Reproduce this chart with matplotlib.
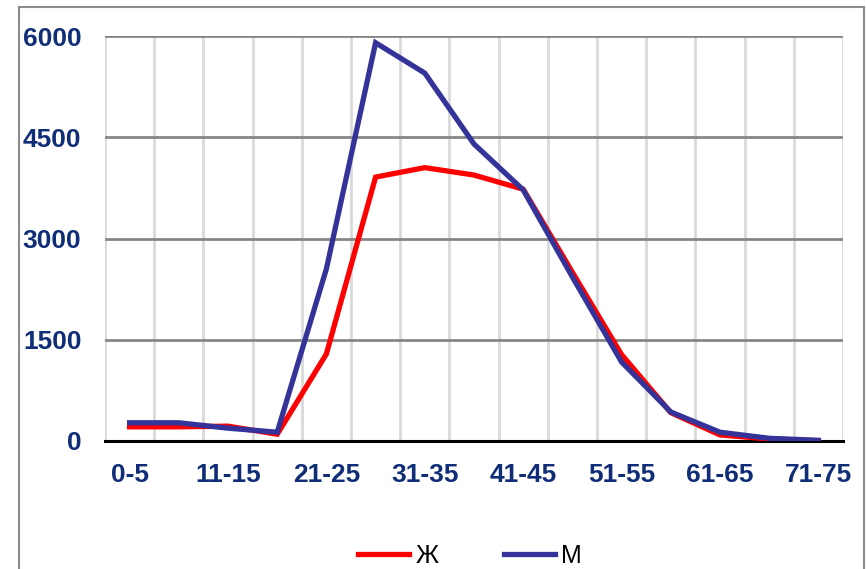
import matplotlib.pyplot as plt
from matplotlib.patches import Rectangle
import numpy as np

plt.rcParams['font.family'] = ['Liberation Sans', 'DejaVu Sans']

# возрастные группы
ages = ['0-5', '6-10', '11-15', '16-20', '21-25', '26-30', '31-35', '36-40',
        '41-45', '46-50', '51-55', '56-60', '61-65', '66-70', '71-75']
# женщины
women = [210, 210, 220, 100, 1290, 3910, 4050, 3940, 3730, 2500, 1280, 420, 90, 30, 5]
# мужчины
men = [270, 270, 190, 130, 2550, 5900, 5450, 4400, 3720, 2430, 1170, 430, 130, 40, 10]

label_color = '#102E78'

fig = plt.figure(figsize=(8.66, 5.69), dpi=100)
ax = fig.add_axes([105 / 866, 1 - 441 / 569, 738 / 866, 405 / 569])

x = np.arange(len(ages))
ax.plot(x, women, color='#FF0000', lw=3.8, label='Ж', zorder=4, solid_joinstyle='miter')
ax.plot(x, men, color='#333399', lw=3.8, label='М', zorder=5, solid_joinstyle='miter')

ax.set_xlim(-0.5, len(ages) - 0.5)
ax.set_ylim(0, 6000)

# подписи осей
ax.set_xticks(x[::2])
ax.set_xticklabels(ages[::2])
ax.set_xticks(np.arange(-0.5, len(ages)), minor=True)
ax.set_yticks([0, 1500, 3000, 4500, 6000])
ax.tick_params(axis='both', which='both', length=0)
ax.tick_params(axis='x', which='major', pad=16)
ax.tick_params(axis='y', which='major', pad=17)
for lab in ax.get_xticklabels() + ax.get_yticklabels():
    lab.set_fontsize(19)
    lab.set_fontweight('bold')
    lab.set_color(label_color)

# сетка
ax.grid(axis='x', which='minor', color='#D9D9D9', lw=2, zorder=2)
ax.grid(axis='x', which='major', visible=False)
ax.grid(axis='y', which='major', color='#868686', lw=2, zorder=1)
ax.set_axisbelow(True)

for s in ['left', 'right', 'top']:
    ax.spines[s].set_visible(False)
ax.spines['bottom'].set_color('black')
ax.spines['bottom'].set_linewidth(2.2)
ax.spines['bottom'].set_zorder(3)

# легенда
fig.legend(loc='center', bbox_to_anchor=(470 / 866, 1 - 556 / 569), ncol=2,
           frameon=False, fontsize=18, handlelength=2.05, handletextpad=0.25,
           columnspacing=2.6, borderaxespad=0, borderpad=0)

# рамка диаграммы
fig.patches.append(Rectangle((19 / 866, -0.1), 845 / 866, 1.1 - 7 / 569,
                             transform=fig.transFigure, fill=False,
                             edgecolor='#8C8C8C', lw=1.5))

fig.savefig('out.png', dpi=100)
